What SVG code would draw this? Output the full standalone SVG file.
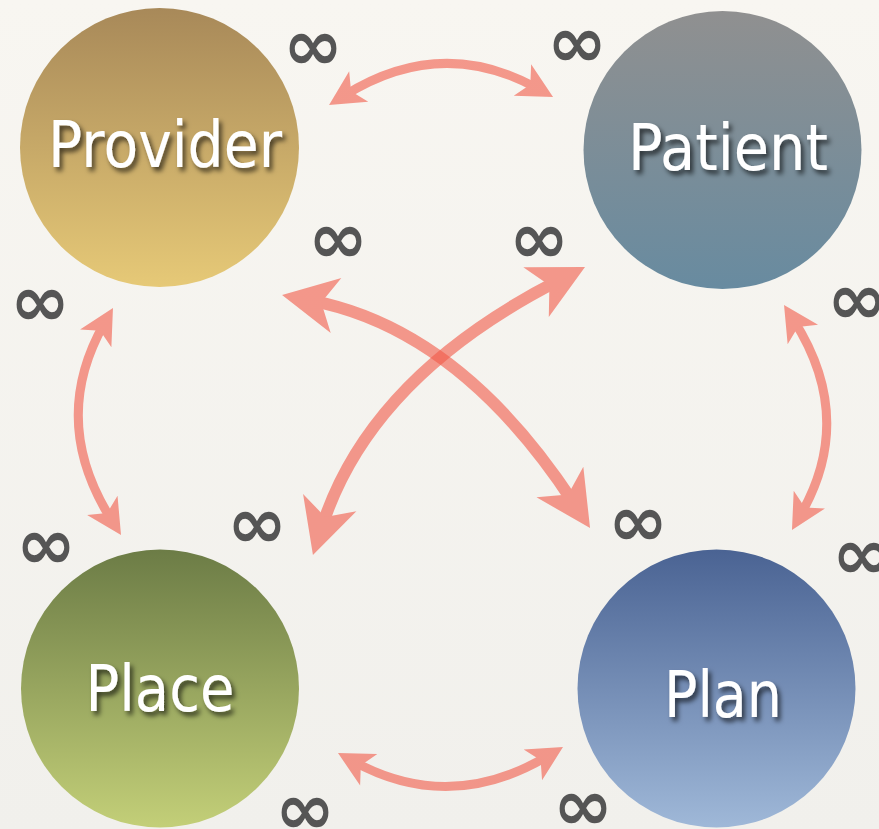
<svg xmlns="http://www.w3.org/2000/svg" width="879" height="829" viewBox="0 0 879 829">
<defs>
<linearGradient id="bg" x1="0" y1="0" x2="0" y2="1"><stop offset="0" stop-color="#F8F6F1"/><stop offset="1" stop-color="#F1F0EC"/></linearGradient>
<linearGradient id="gProvider" x1="0" y1="0" x2="0" y2="1"><stop offset="0" stop-color="#A88959"/><stop offset="1" stop-color="#E6C977"/></linearGradient>
<linearGradient id="gPatient" x1="0" y1="0" x2="0" y2="1"><stop offset="0" stop-color="#909090"/><stop offset="1" stop-color="#688BA0"/></linearGradient>
<linearGradient id="gPlace" x1="0" y1="0" x2="0" y2="1"><stop offset="0" stop-color="#6C7C46"/><stop offset="1" stop-color="#C3CF78"/></linearGradient>
<linearGradient id="gPlan" x1="0" y1="0" x2="0" y2="1"><stop offset="0" stop-color="#4A6393"/><stop offset="1" stop-color="#9FB8D8"/></linearGradient>
<filter id="shadow" x="-20%" y="-30%" width="140%" height="160%"><feDropShadow dx="3" dy="4" stdDeviation="2.5" flood-color="#000" flood-opacity="0.65"/></filter>
<marker id="hs" markerUnits="userSpaceOnUse" orient="auto-start-reverse" refX="0" refY="0" markerWidth="10" markerHeight="10" overflow="visible"><path d="M18,0 L-17,-18 L-8,0 L-17,18 Z" fill="#F25A48"/></marker>
<marker id="hb" markerUnits="userSpaceOnUse" orient="auto-start-reverse" refX="0" refY="0" markerWidth="10" markerHeight="10" overflow="visible"><path d="M30,0 L-25,-28 L-10,0 L-25,28 Z" fill="#F25A48"/></marker>
</defs>
<style>
.lbl{font-family:"DejaVu Sans","Liberation Sans",sans-serif;font-size:64px;fill:#FFFFFF;text-anchor:middle;filter:url(#shadow)}
.inf{font-family:"DejaVu Sans","Liberation Sans",sans-serif;font-size:72px;font-weight:bold;fill:#555555;text-anchor:middle}
.c{fill:none;stroke:#F25A48}
.thin{stroke-width:9;marker-start:url(#hs);marker-end:url(#hs)}
.thick{stroke-width:12;marker-start:url(#hb);marker-end:url(#hb)}
.conn{opacity:0.6}
</style>
<rect width="879" height="829" fill="url(#bg)"/>
<g id="connectors">
<g class="conn"><path class="c thin" d="M344.3,95.5 Q441,35 537.3,88.3"/></g>
<g class="conn"><path class="c thin" d="M353.8,761.6 Q450,814 547.5,756.2"/></g>
<g class="conn"><path class="c thin" d="M104.1,323.7 Q49,421 111.4,519.8"/></g>
<g class="conn"><path class="c thin" d="M793.7,320.2 Q856,418 800.9,514.4"/></g>
<g class="conn"><path class="c thick" d="M311.5,300.7 Q460,329.5 573.6,502.9"/></g>
<g class="conn"><path class="c thick" d="M558.3,280.7 Q370,377 322.1,526.4"/></g>
</g>
<g id="provider"><circle cx="159.5" cy="147.5" r="139.5" fill="url(#gProvider)"/><text class="lbl" x="165" y="167" textLength="234" lengthAdjust="spacingAndGlyphs">Provider</text></g>
<g id="patient"><circle cx="722.5" cy="150" r="139" fill="url(#gPatient)"/><text class="lbl" x="728" y="170" textLength="200" lengthAdjust="spacingAndGlyphs">Patient</text></g>
<g id="place"><circle cx="160" cy="688.5" r="139" fill="url(#gPlace)"/><text class="lbl" x="160" y="711" textLength="149" lengthAdjust="spacingAndGlyphs">Place</text></g>
<g id="plan"><circle cx="716.5" cy="688.5" r="139" fill="url(#gPlan)"/><text class="lbl" x="723" y="717" textLength="118" lengthAdjust="spacingAndGlyphs">Plan</text></g>
<g id="multiplicities">
<text class="inf" x="313" y="70">∞</text>
<text class="inf" x="338" y="263">∞</text>
<text class="inf" x="577" y="67">∞</text>
<text class="inf" x="539" y="263">∞</text>
<text class="inf" x="40" y="326">∞</text>
<text class="inf" x="46" y="569">∞</text>
<text class="inf" x="257" y="548">∞</text>
<text class="inf" x="857" y="324">∞</text>
<text class="inf" x="638" y="546">∞</text>
<text class="inf" x="862" y="579">∞</text>
<text class="inf" x="305" y="834">∞</text>
<text class="inf" x="583" y="830">∞</text>
</g>
</svg>
